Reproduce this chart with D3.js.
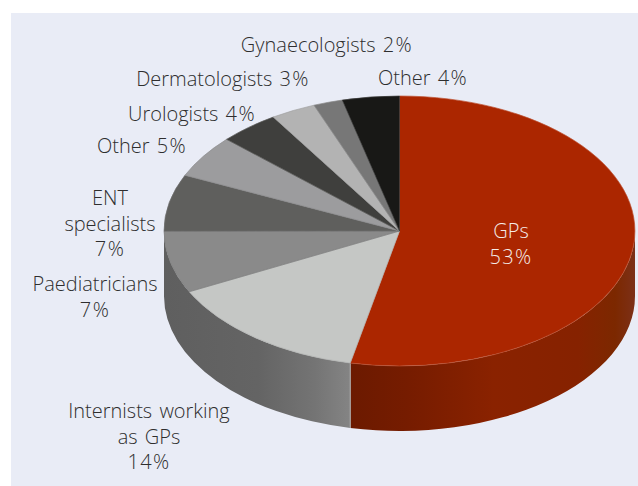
<!DOCTYPE html>
<html><head><meta charset="utf-8">
<script src="https://cdn.jsdelivr.net/npm/d3@7"></script>
<style>html,body{margin:0;padding:0;background:#fff}svg{display:block}text{font-family:"Open Sans",sans-serif;font-size:20px;font-weight:300;fill:#2e2e2e;word-spacing:2px}.num{letter-spacing:1.4px}</style>
</head><body><svg id="c" width="638" height="486"></svg>
<script>
const categories=["GPs","Internists working as GPs","Paediatricians","ENT specialists","Other","Urologists","Dermatologists","Gynaecologists","Other"];
const shares=[53.3,14.2,7.4,6.8,5.1,4.1,3.1,2,3.9];
const labelValues=[53,14,7,7,5,4,3,2,4];
const topColors=["#ab2600","#c5c7c5","#8a8a8a","#5f5f5d","#9c9c9e","#3f3f3d","#b3b3b3","#777777","#181816"];
const edgeColors=["#bd5030","#b0b2b0","#808080","#707070","#8c8c8e","#5a5a58","#a0a0a0","#8a8a8a","#3a3a38"];
const labelLines=[["GPs","53%"],["Internists working","as GPs","14%"],["Paediatricians","7%"],["ENT","specialists","7%"],["Other 5%"],["Urologists 4%"],["Dermatologists 3%"],["Gynaecologists 2%"],["Other 4%"]];
const labelAnchors=[[511,238],[149,418],[95,291],[110,205],[142,153],[192,121],[223,86],[327,52],[423,85]];

const W=638,H=486,cx=399.5,cy=231,rx=235.5,ry=135,depth=65;
const svg=d3.select("#c");
svg.append("rect").attr("x",11).attr("y",13).attr("width",W-11).attr("height",H-13).attr("fill","#e9ecf6");
const pie=d3.pie().sort(null).value(d=>d)(shares);
const defs=svg.append("defs");
function grad(id,x1,x2,stops){
  const g=defs.append("linearGradient").attr("id",id).attr("gradientUnits","userSpaceOnUse").attr("x1",x1).attr("x2",x2).attr("y1",0).attr("y2",0);
  stops.forEach(([o,c])=>g.append("stop").attr("offset",o).attr("stop-color",c));
}
grad("wallGrey",164,352,[[0,"#5f5f5f"],[.5,"#646464"],[.8,"#747474"],[1,"#858585"]]);
grad("wallRed",352,635,[[0,"#6c1a00"],[.2,"#761c00"],[.5,"#8a2200"],[.8,"#862200"],[.93,"#7c2800"],[1,"#7c3018"]]);
const px=a=>cx+rx*Math.sin(a),py=a=>cy-ry*Math.cos(a);
function wall(a0,a1,fill){
  const s=Math.max(a0,Math.PI/2),e=Math.min(a1,Math.PI*1.5);
  if(e<=s)return;
  const A=(x,y,sw)=>`A${rx},${ry} 0 0 ${sw} ${x},${y}`;
  const d=`M${px(s)},${py(s)}${A(px(e),py(e),1)}L${px(e)},${py(e)+depth}${A(px(s),py(s)+depth,0)}Z`;
  svg.append("path").attr("d",d).attr("fill",fill);
}
wall(pie[0].startAngle,pie[0].endAngle,"url(#wallRed)");
wall(pie[1].startAngle,pie[2].endAngle,"url(#wallGrey)");
svg.append("line").attr("x1",px(pie[0].endAngle)).attr("x2",px(pie[0].endAngle)).attr("y1",py(pie[0].endAngle)).attr("y2",py(pie[0].endAngle)+depth).attr("stroke","#b0b0b0").attr("stroke-width",1);
const arc=d3.arc().innerRadius(0).outerRadius(1);
const face=svg.append("g").attr("transform",`translate(${cx},${cy}) scale(${rx},${ry})`);
face.selectAll("path").data(pie).join("path").attr("d",arc).attr("fill",(d,i)=>topColors[i])
  .attr("stroke",(d,i)=>edgeColors[i]).attr("stroke-width",.7).attr("vector-effect","non-scaling-stroke");
svg.selectAll("text.l").data(labelLines).join("text").attr("class","l")
  .attr("text-anchor","middle").attr("style",(d,i)=>i===0?"fill:#f4ece8":null)
  .each(function(lines,i){
    const t=d3.select(this);
    lines.forEach((s,j)=>{
      const y=labelAnchors[i][1]+j*25.5, x=labelAnchors[i][0];
      const m=s.match(/^(.*?)(\d+%)$/);
      if(m){
        if(m[1]){
          t.append("tspan").attr("x",x).attr("y",y).text(m[1]);
          t.append("tspan").attr("class","num").text(m[2]);
        } else {
          t.append("tspan").attr("class","num").attr("x",x).attr("y",y).text(m[2]);
        }
      } else t.append("tspan").attr("x",x).attr("y",y).text(s);
    });
  });
</script></body></html>
